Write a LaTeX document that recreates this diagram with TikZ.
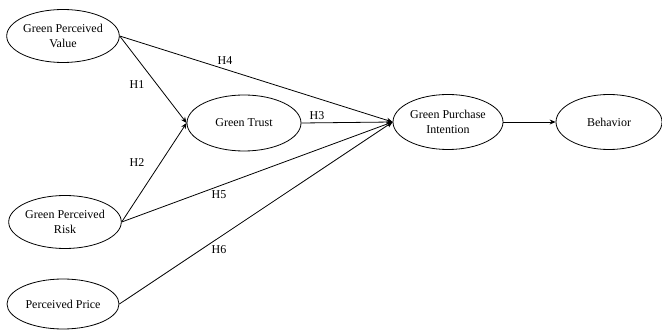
\documentclass[tikz,border=0pt]{standalone}
\usepackage{fontspec}
\setmainfont{Liberation Serif}
\usetikzlibrary{shapes.geometric,arrows.meta}

\begin{document}
\begin{tikzpicture}[x=1pt,y=-1pt,
  construct/.style={draw, ellipse, line width=.8pt, inner sep=0pt, align=center,
    minimum width=112pt, minimum height=53pt, font=\fontsize{12}{15}\selectfont},
  path/.style={draw, line width=.8pt},
  hyp/.style={font=\fontsize{12}{15}\selectfont, inner sep=1pt},
  tip/.style={-{Stealth[length=6pt,width=5pt]}}]

\useasboundingbox (0,0) rectangle (662,331);

\node [construct] (gpv) at (63,36) {Green Perceived\\Value};
\node [construct] (gpr) at (65,222) {Green Perceived\\Risk};
\node [construct, minimum height=50pt] (pp) at (63,304) {Perceived Price};
\node [construct, minimum width=114pt, minimum height=56pt] (gt) at (244,123) {Green Trust};
\node [construct, minimum width=110pt, minimum height=55pt] (gpi) at (448,122) {Green Purchase\\Intention};
\node [construct, minimum width=106pt, minimum height=55pt] (beh) at (609,122) {Behavior};


\draw [path, tip] (gpv.east) -- (gt.west);
\draw [path, tip] (gpr.east) -- (gt.west);
\draw [path, tip] (gpv.east) -- (gpi.west);
\draw [path, tip] (gt.east) -- (gpi.west);
\draw [path, tip] (gpr.east) -- (gpi.west);
\draw [path, tip] (pp.east) -- (gpi.west);
\draw [path, tip] (gpi.east) -- (beh.west);

\node [hyp] (h1) at (137,85) {H1};
\node [hyp] (h2) at (137,163) {H2};
\node [hyp] (h3) at (317,116) {H3};
\node [hyp] (h4) at (225,61) {H4};
\node [hyp] (h5) at (219,195) {H5};
\node [hyp] (h6) at (219,250) {H6};

\end{tikzpicture}
\end{document}
